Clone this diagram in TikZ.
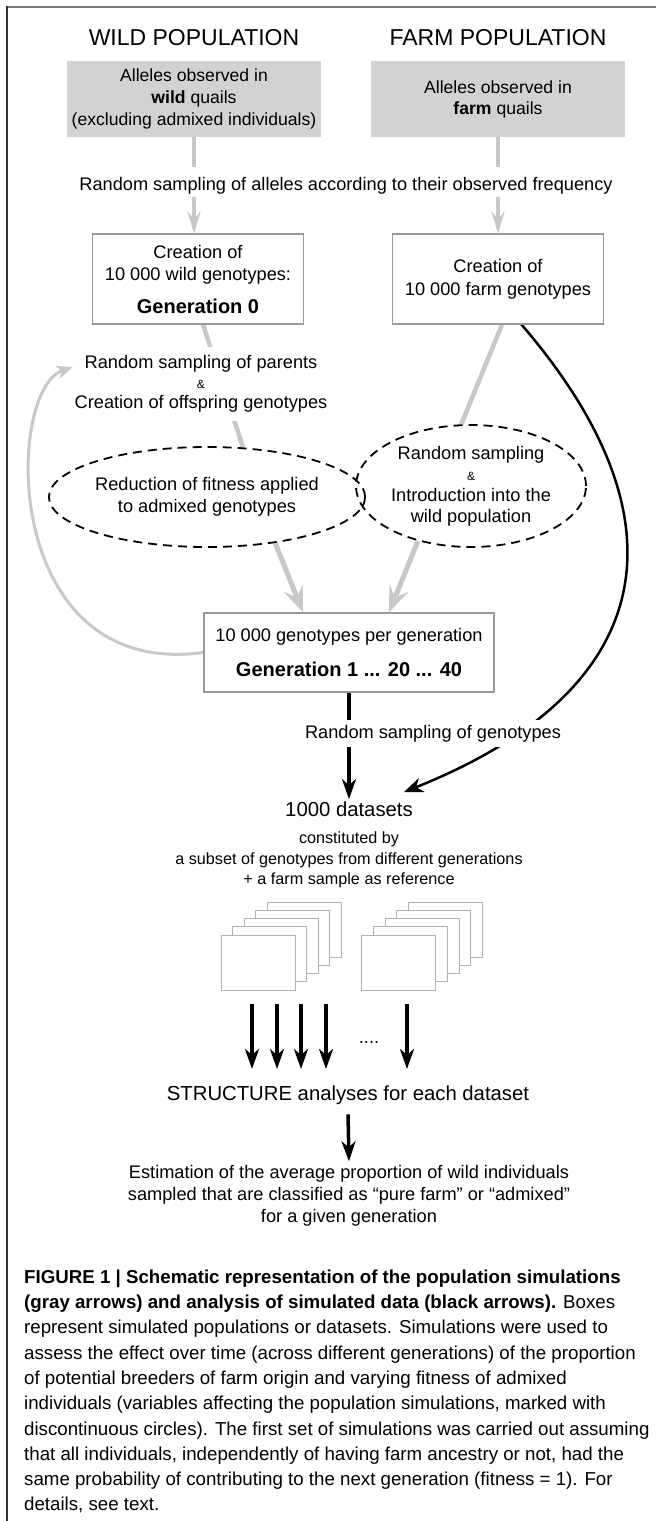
\documentclass[tikz,border=0pt]{standalone}
\usepackage{fontspec}
\setmainfont{Liberation Sans}
\usetikzlibrary{arrows.meta,shapes.geometric,calc}
\pgfdeclarelayer{links}
\pgfsetlayers{links,main}
\definecolor{simgray}{HTML}{C8C8C8}
\definecolor{boxgray}{HTML}{D2D2D2}
\definecolor{edgegray}{HTML}{9A9A9A}
\definecolor{sheetgray}{HTML}{B0B0B0}
\definecolor{framegray}{HTML}{7A7A7A}
\begin{document}
\begin{tikzpicture}[x=1pt,y=-1pt,
  ftitle/.style={font=\fontsize{23pt}{26pt}\selectfont},
  fbody/.style={font=\fontsize{18.2pt}{22pt}\selectfont},
  fsmall/.style={font=\fontsize{16.2pt}{20.5pt}\selectfont},
  flarge/.style={font=\fontsize{20.3pt}{24pt}\selectfont},
  fcap/.style={font=\fontsize{18.7pt}{25.3pt}\selectfont},
  txt/.style={inner sep=0pt, align=center},
  gaplabel/.style={txt, fill=white, inner ysep=5pt, inner xsep=2pt},
  sourcebox/.style={fill=boxgray, draw=none, minimum width=254pt, minimum height=76pt,
    align=center, inner sep=0pt, font=\fontsize{17.6pt}{22pt}\selectfont},
  popbox/.style={draw=edgegray, line width=1.1pt, fill=white, align=center, inner sep=0pt, fbody},
  varellipse/.style={ellipse, draw=black, line width=1.8pt, dash pattern=on 9pt off 6pt,
    align=center, inner sep=0pt, fbody},
  sheet/.style={draw=sheetgray, line width=0.9pt, fill=white, minimum width=74pt, minimum height=55pt, inner sep=0pt},
  simline/.style={draw=simgray, line width=4.5pt},
  simarrow/.style={simline, -{Stealth[length=22pt,width=13pt,inset=8pt]}},
  simbig/.style={draw=simgray, line width=5pt, -{Stealth[length=26pt,width=20pt,inset=10pt]}},
  simloop/.style={draw=simgray, line width=3pt, -{Stealth[length=16pt,width=13pt,inset=4pt]}},
  dataline/.style={draw=black, line width=3.5pt},
  dataarrow/.style={dataline, -{Stealth[length=20pt,width=14pt,inset=6pt]}},
  datacurve/.style={draw=black, line width=2.5pt, -{Stealth[length=19pt,width=15pt,inset=6pt]}},
]
\useasboundingbox (0,0) rectangle (656,1521);

% frame
\draw[framegray, line width=2pt] (7,7) -- (656,7);
\draw[black!80, line width=1.5pt] (7,6) -- (7,1521);

% headings and source boxes
\node[txt,ftitle,anchor=base] (wt) at (194,45) {WILD POPULATION};
\node[txt,ftitle,anchor=base] (ft) at (498,45) {FARM POPULATION};
\node[sourcebox] (sw) at (194,99) {Alleles observed in\\\textbf{wild} quails\\(excluding admixed individuals)};
\node[sourcebox, font=\fontsize{17.6pt}{21pt}\selectfont] (sf) at (498,99) {Alleles observed in\\\textbf{farm} quails};

\node[txt,fbody,anchor=base] (rsa) at (346,190) {Random sampling of alleles according to their observed frequency};

% generation 0 and farm genotypes
\node[popbox, minimum width=211pt, minimum height=90pt] (cw) at (198,279)
  {Creation of\\10 000 wild genotypes:\\[11pt]{\fontsize{20pt}{24pt}\selectfont\bfseries Generation 0}};
\node[popbox, minimum width=211pt, minimum height=90pt] (cf) at (498,279)
  {Creation of\\[1pt]10 000 farm genotypes};

\node[gaplabel,fbody,inner ysep=9pt,inner xsep=0pt,font=\fontsize{18.2pt}{20pt}\selectfont] (rsp) at (201,384)
  {Random sampling of parents\\{\fontsize{12pt}{12pt}\selectfont\&}\\Creation of offspring genotypes};

% variables of the simulation
\node[varellipse, minimum width=256pt, minimum height=100pt] (el) at (207,497)
  {Reduction of fitness applied\\to admixed genotypes};
\node[varellipse, minimum width=230pt, minimum height=122pt, font=\fontsize{18.2pt}{21pt}\selectfont] (er) at (471,486)
  {Random sampling\\{\fontsize{12pt}{12pt}\selectfont\&}\\Introduction into the\\wild population};

% simulated generations
\node[popbox, minimum width=290pt, minimum height=79pt] (gen) at (349,652.5)
  {10 000 genotypes per generation\\[13pt]{\fontsize{20pt}{24pt}\selectfont\bfseries Generation 1 ... 20 ... 40}};

\node[gaplabel,fbody,anchor=base] (rsg) at (433,738) {Random sampling of genotypes};
\node[txt,flarge,anchor=base] (ds) at (349,816) {1000 datasets};
\node[txt,fsmall] (dsnote) at (349,860)
  {constituted by\\a subset of genotypes from different generations\\+ a farm sample as reference};

% stacks of datasets
\foreach \i in {4,3,2,1,0} {
  \node[sheet] (sheetA\i) at ({258+11.6*\i},{962.5-8.25*\i}) {};
  \node[sheet] (sheetB\i) at ({398.5+11.75*\i},{962.5-8.25*\i}) {};
}

\node[txt,fbody,anchor=base] (dots) at (369,1043) {....};
\node[txt,flarge,anchor=base] (st) at (348,1100) {STRUCTURE analyses for each dataset};
\node[txt,fbody] (est) at (349,1196)
  {Estimation of the average proportion of wild individuals\\sampled that are classified as “pure farm” or “admixed”\\for a given generation};

% caption
\node[txt, fcap, align=left, anchor=north west] (cap) at (24,1269.5)
  {\textbf{FIGURE 1 | Schematic representation of the population simulations}\\
   \textbf{(gray arrows) and analysis of simulated data (black arrows).} Boxes\\
   represent simulated populations or datasets. Simulations were used to\\
   assess the effect over time (across different generations) of the proportion\\
   of potential breeders of farm origin and varying fitness of admixed\\
   individuals (variables affecting the population simulations, marked with\\
   discontinuous circles). The first set of simulations was carried out assuming\\
   that all individuals, independently of having farm ancestry or not, had the\\
   same probability of contributing to the next generation (fitness = 1). For\\
   details, see text.};

% free ends of connectors
\coordinate (loopend) at (73,367);
\coordinate (curvestart) at (521,324);
\coordinate (curveend) at (404,792);
\foreach \x [count=\k] in {252,277,301,326,407} {
  \coordinate (fanTop\k) at (\x,1004);
  \coordinate (fanTip\k) at (\x,1069);
}

\begin{pgfonlayer}{links}
  % simulation (gray)
  \draw[simline, shorten >=10pt] (sw.south) -- (sw.south |- rsa.north);
  \draw[simarrow, shorten <=3pt] (sw.south |- rsa.south) -- (sw.south |- cw.north);
  \draw[simline, shorten >=10pt] (sf.south) -- (sf.south |- rsa.north);
  \draw[simarrow, shorten <=3pt] (sf.south |- rsa.south) -- (sf.south |- cf.north);
  \draw[simline] ([xshift=5pt]cw.south) -- (el.54);
  \draw[simline] ([xshift=4pt]cf.south) -- (er.99);
  \draw[simbig] (el.-34) -- ([xshift=-46pt]gen.north);
  \draw[simbig] (er.226) -- ([xshift=40pt]gen.north);
  \draw[simloop] (gen.west) .. controls (0,680) and (5,390) .. (loopend);
  % analysis (black)
  \draw[dataarrow] (gen.south) -- ([yshift=2pt]ds.north);
  \draw[datacurve] (curvestart) .. controls (690,520) and (660,690) .. (curveend);
  \foreach \k in {1,...,5} \draw[dataarrow] (fanTop\k) -- (fanTip\k);
  \draw[dataarrow] ([yshift=-10pt]st.south) -- ([yshift=4pt]est.north);
\end{pgfonlayer}
\end{tikzpicture}
\end{document}
